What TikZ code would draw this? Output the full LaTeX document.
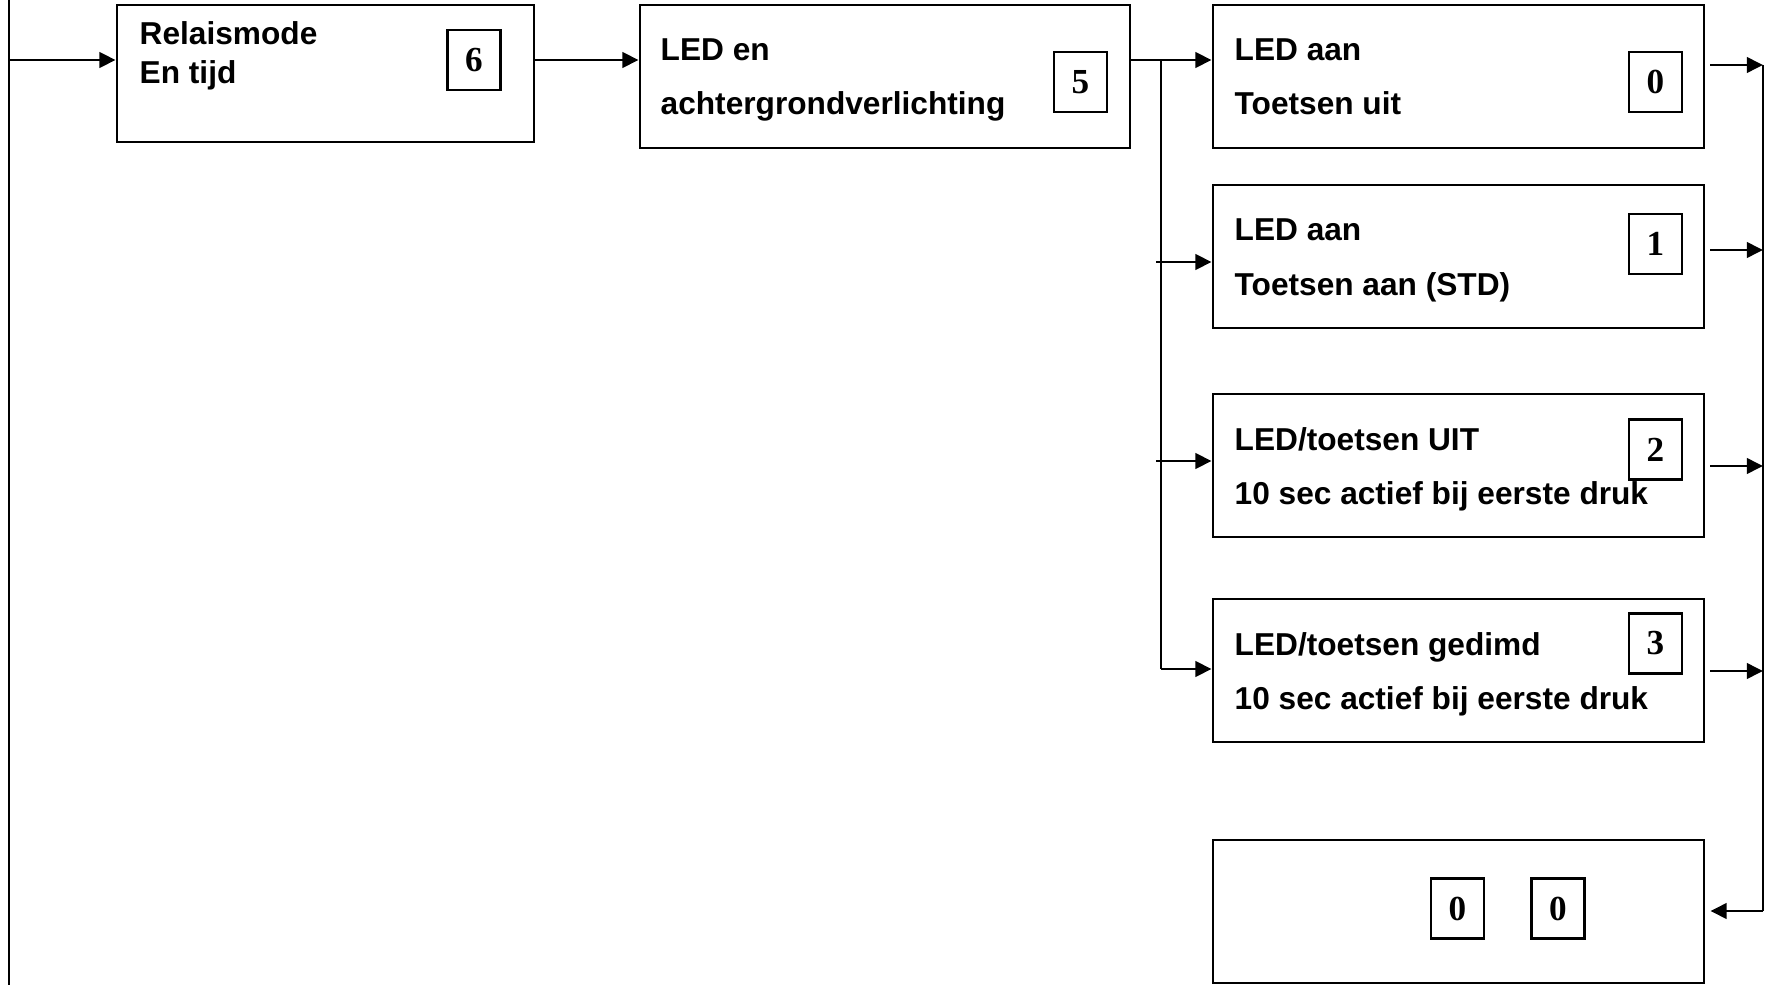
\documentclass[tikz,border=0pt]{standalone}
\usepackage{fontspec}
\setmainfont{Liberation Sans}
\newfontfamily\numfont{Liberation Serif}
\usetikzlibrary{arrows.meta, positioning, calc}

\begin{document}
\begin{tikzpicture}[x=0.01cm, y=-0.01cm,
  box/.style={draw, line width=0.75pt, inner sep=0pt},
  numbox/.style={draw, line width=0.75pt, inner sep=0pt, minimum width=0.53cm, minimum height=0.6cm,
    font=\numfont\fontsize{10}{12}\selectfont\bfseries},
  lbl/.style={anchor=base west, inner sep=0pt, font=\fontsize{9}{11}\selectfont\bfseries},
  wire/.style={line width=0.75pt},
  arr/.style={line width=0.75pt, -{Triangle[length=4.6pt, width=4.4pt]}}]

\useasboundingbox (0,0) rectangle (1769,985);

% relaismode
\node[box, minimum width=4.17cm, minimum height=1.37cm] (relais) at (325.5,73.5) {};
\node[lbl] (relaisA) at (139,45) {Relaismode};
\node[lbl] (relaisB) at (139,84) {En tijd};
\node[numbox] (n6) at (474,60) {6};

% led en achtergrondverlichting
\node[box, minimum width=4.90cm, minimum height=1.43cm] (ledbl) at (885,76.5) {};
\node[lbl] (ledblA) at (660,61) {LED en};
\node[lbl] (ledblB) at (660,115) {achtergrondverlichting};
\node[numbox] (n5) at (1080.5,82) {5};

% choices
\node[box, minimum width=4.91cm, minimum height=1.43cm] (m0) at (1458.5,76.5) {};
\node[lbl] (m0A) at (1234,61) {LED aan};
\node[lbl] (m0B) at (1234,115) {Toetsen uit};
\node[numbox] (n0) at (1655.5,82) {0};

\node[box, minimum width=4.91cm, minimum height=1.43cm] (m1) at (1458.5,256.5) {};
\node[lbl] (m1A) at (1234,241) {LED aan};
\node[lbl] (m1B) at (1234,295) {Toetsen aan (STD)};
\node[numbox] (n1) at (1655.5,244) {1};

\node[box, minimum width=4.91cm, minimum height=1.43cm] (m2) at (1458.5,465.5) {};
\node[lbl] (m2A) at (1234,450) {LED/toetsen UIT};
\node[numbox] (n2) at (1655.5,449.5) {2};
\node[lbl] (m2B) at (1234,504) {10 sec actief bij eerste druk};

\node[box, minimum width=4.91cm, minimum height=1.43cm] (m3) at (1458.5,670.5) {};
\node[lbl] (m3A) at (1234,655) {LED/toetsen gedimd};
\node[lbl] (m3B) at (1234,709) {10 sec actief bij eerste druk};
\node[numbox] (n3) at (1655.5,643.5) {3};

% back to 00
\node[box, minimum width=4.91cm, minimum height=1.43cm] (home) at (1458.5,911.5) {};
\node[numbox] (h1) at (1457.5,908.5) {0};
\node[numbox] (h2) at (1558,908.5) {0};

% left feed
\coordinate (ltop) at (9,0);
\coordinate (lbot) at (9,985);
\coordinate (lin) at (9,60);
\draw[wire] (ltop) -- (lbot);
\draw[arr] (lin) -- (lin -| relais.west);
\draw[arr] (relais.east |- lin) -- (ledbl.west |- lin);

% split
\coordinate (sTop) at (1161,60);
\coordinate (sBot) at (1161,669);
\coordinate (s1) at (1156,262);
\coordinate (s2) at (1156,461);
\draw[wire] (ledbl.east |- sTop) -- (sTop) -- (sBot);
\draw[arr] (sTop) -- (sTop -| m0.west);
\draw[arr] (s1) -- (s1 -| m1.west);
\draw[arr] (s2) -- (s2 -| m2.west);
\draw[arr] (sBot) -- (sBot -| m3.west);

% merge
\coordinate (rTop) at (1763,65);
\coordinate (r1) at (1763,250);
\coordinate (r2) at (1763,466);
\coordinate (r3) at (1763,671);
\coordinate (rBot) at (1763,911);
\draw[wire] (rTop) -- (rBot);
\draw[arr] ($(rTop -| m0.east)+(5,0)$) -- (rTop);
\draw[arr] ($(r1 -| m1.east)+(5,0)$) -- (r1);
\draw[arr] ($(r2 -| m2.east)+(5,0)$) -- (r2);
\draw[arr] ($(r3 -| m3.east)+(5,0)$) -- (r3);
\draw[arr] (rBot) -- ($(rBot -| home.east)+(5,0)$);
\end{tikzpicture}
\end{document}
